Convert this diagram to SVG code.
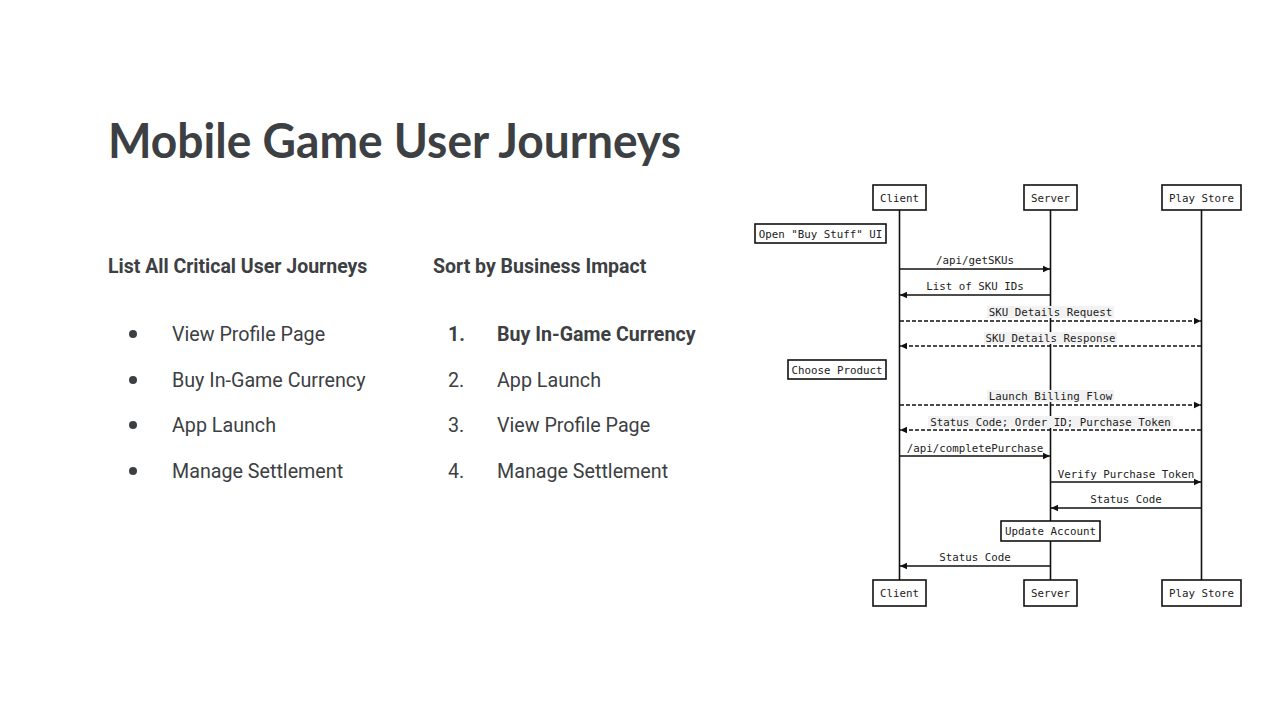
<svg xmlns="http://www.w3.org/2000/svg" width="1288" height="725" viewBox="0 0 1288 725">
<style>
.title{font-family:Lato,"Open Sans","Liberation Sans",sans-serif;font-weight:700;font-size:48px;fill:#3c4043}
.sub{font-family:Roboto,"Liberation Sans",sans-serif;font-weight:700;font-size:19.5px;fill:#3c4043}
.item{font-family:Roboto,"Liberation Sans",sans-serif;font-size:19.7px;fill:#3c4043}
.itemb{font-family:Roboto,"Liberation Sans",sans-serif;font-size:19.6px;font-weight:700;fill:#3c4043}
.box{fill:#fff;stroke:#111;stroke-width:1.6}
.mono{font-family:"DejaVu Sans Mono","Liberation Mono",monospace;font-size:10.8px;fill:#222;text-anchor:middle}
.life{stroke:#111;stroke-width:1.6}
.msg{stroke:#111;stroke-width:1.4;fill:none}
.dash{stroke-dasharray:4 2}
.lbl{fill:#f2f2f2}
</style>
<defs>
<marker id="ah" markerWidth="8" markerHeight="8" refX="7" refY="4" orient="auto" markerUnits="userSpaceOnUse">
<path d="M0,0.8 L7,4 L0,7.2 Z" fill="#111"/>
</marker>
</defs>
<rect width="1288" height="725" fill="#fff"/>
<text class="title" x="108" y="158" textLength="573" lengthAdjust="spacingAndGlyphs">Mobile Game User Journeys</text>
<g id="left-list">
<text class="sub" x="108" y="273">List All Critical User Journeys</text>
<circle cx="133" cy="334" r="4" fill="#3c4043"/>
<text class="item" x="172" y="341">View Profile Page</text>
<circle cx="133" cy="380" r="4" fill="#3c4043"/>
<text class="item" x="172" y="387">Buy In-Game Currency</text>
<circle cx="133" cy="425" r="4" fill="#3c4043"/>
<text class="item" x="172" y="432">App Launch</text>
<circle cx="133" cy="471" r="4" fill="#3c4043"/>
<text class="item" x="172" y="478">Manage Settlement</text>
</g>
<g id="right-list">
<text class="sub" x="433" y="273">Sort by Business Impact</text>
<text class="itemb" x="448" y="341">1.</text>
<text class="itemb" x="497" y="341">Buy In-Game Currency</text>
<text class="item" x="448" y="387">2.</text>
<text class="item" x="497" y="387">App Launch</text>
<text class="item" x="448" y="432">3.</text>
<text class="item" x="497" y="432">View Profile Page</text>
<text class="item" x="448" y="478">4.</text>
<text class="item" x="497" y="478">Manage Settlement</text>
</g>
<g id="lifelines">
<line class="life" x1="899.5" y1="210" x2="899.5" y2="580"/>
<line class="life" x1="1050.5" y1="210" x2="1050.5" y2="580"/>
<line class="life" x1="1201.5" y1="210" x2="1201.5" y2="580"/>
</g>
<g id="connectors">
<line class="msg" x1="900" y1="269" x2="1050" y2="269" marker-end="url(#ah)"/>
<text class="mono" x="975" y="264">/api/getSKUs</text>
<line class="msg" x1="1050" y1="295" x2="900" y2="295" marker-end="url(#ah)"/>
<text class="mono" x="975" y="290">List of SKU IDs</text>
<line class="msg dash" x1="900" y1="321" x2="1201" y2="321" marker-end="url(#ah)"/>
<rect class="lbl" x="987" y="306" width="127" height="12"/>
<text class="mono" x="1050.5" y="316">SKU Details Request</text>
<line class="msg dash" x1="1201" y1="346" x2="900" y2="346" marker-end="url(#ah)"/>
<rect class="lbl" x="984" y="332" width="133" height="12"/>
<text class="mono" x="1050.5" y="342">SKU Details Response</text>
<line class="msg dash" x1="900" y1="405" x2="1201" y2="405" marker-end="url(#ah)"/>
<rect class="lbl" x="987" y="390" width="127" height="12"/>
<text class="mono" x="1050.5" y="400">Launch Billing Flow</text>
<line class="msg dash" x1="1201" y1="430" x2="900" y2="430" marker-end="url(#ah)"/>
<rect class="lbl" x="928" y="416" width="245" height="12"/>
<text class="mono" x="1050.5" y="426">Status Code; Order ID; Purchase Token</text>
<line class="msg" x1="900" y1="456" x2="1050" y2="456" marker-end="url(#ah)"/>
<text class="mono" x="975" y="452">/api/completePurchase</text>
<line class="msg" x1="1051" y1="482" x2="1201" y2="482" marker-end="url(#ah)"/>
<text class="mono" x="1126" y="478">Verify Purchase Token</text>
<line class="msg" x1="1201" y1="508" x2="1051" y2="508" marker-end="url(#ah)"/>
<text class="mono" x="1126" y="503">Status Code</text>
<line class="msg" x1="1050" y1="566" x2="900" y2="566" marker-end="url(#ah)"/>
<text class="mono" x="975" y="561">Status Code</text>
</g>
<g id="client-top"><rect class="box" x="873" y="185" width="53" height="25"/><text class="mono" x="899.5" y="201.5">Client</text></g>
<g id="server-top"><rect class="box" x="1024" y="185" width="53" height="25"/><text class="mono" x="1050.5" y="201.5">Server</text></g>
<g id="store-top"><rect class="box" x="1162" y="185" width="79" height="25"/><text class="mono" x="1201.5" y="201.5">Play Store</text></g>
<g id="client-bottom"><rect class="box" x="873" y="580" width="53" height="26"/><text class="mono" x="899.5" y="597">Client</text></g>
<g id="server-bottom"><rect class="box" x="1024" y="580" width="53" height="26"/><text class="mono" x="1050.5" y="597">Server</text></g>
<g id="store-bottom"><rect class="box" x="1162" y="580" width="79" height="26"/><text class="mono" x="1201.5" y="597">Play Store</text></g>
<g id="note-open"><rect class="box" x="755" y="224" width="131" height="19"/><text class="mono" x="820.5" y="237.5">Open "Buy Stuff" UI</text></g>
<g id="note-choose"><rect class="box" x="788" y="360" width="98" height="19"/><text class="mono" x="837" y="373.5">Choose Product</text></g>
<g id="note-update"><rect class="box" x="1001" y="521" width="99" height="20"/><text class="mono" x="1050.5" y="535">Update Account</text></g>
</svg>
